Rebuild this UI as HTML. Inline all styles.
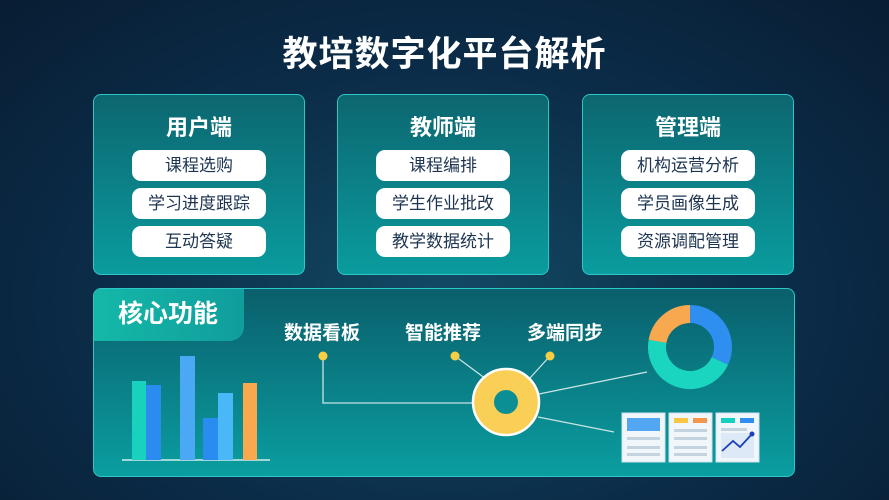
<!DOCTYPE html><html><head><meta charset="utf-8"><style>
*{margin:0;padding:0;box-sizing:border-box}
body{width:889px;height:500px;overflow:hidden;font-family:"Liberation Sans","Noto Sans CJK SC",sans-serif;background:radial-gradient(ellipse at 50% 60%,#134a64 0%,#0b2c48 55%,#081d33 100%);position:relative}
.t{position:absolute;left:0;width:889px;top:26px;text-align:center;color:#fff;font-size:35px;font-weight:bold;letter-spacing:1px}
.p{position:absolute;top:94px;width:212px;height:181px;border-radius:8px;border:1px solid #2fc6c6;background:linear-gradient(180deg,#0c6670 0%,#0a9c9e 100%)}
.p h3{text-align:center;color:#fff;font-size:22px;font-weight:bold;margin-top:15px;height:40px}
.pill{margin:0 auto 7px;width:134px;height:31px;border-radius:9px;background:#fff;color:#1d3550;font-size:17px;text-align:center;line-height:31px}
.core{position:absolute;left:93px;top:288px;width:702px;height:189px;border-radius:8px;border:1px solid #2fc6c6;background:linear-gradient(180deg,#0a5f6c 0%,#0a9ea0 100%);overflow:hidden}
.tab{position:absolute;left:0;top:0;width:150px;height:52px;background:linear-gradient(90deg,#14b8a8,#109d9c);border-bottom-right-radius:14px;color:#fff;font-size:25px;font-weight:bold;line-height:50px;padding-left:24px}
.lb{position:absolute;color:#fff;font-size:19px;font-weight:bold}
</style></head><body>
<div class="t">教培数字化平台解析</div>
<div class="p" style="left:93px"><h3>用户端</h3><div class="pill">课程选购</div><div class="pill">学习进度跟踪</div><div class="pill">互动答疑</div></div>
<div class="p" style="left:337px"><h3>教师端</h3><div class="pill">课程编排</div><div class="pill">学生作业批改</div><div class="pill">教学数据统计</div></div>
<div class="p" style="left:582px"><h3>管理端</h3><div class="pill">机构运营分析</div><div class="pill">学员画像生成</div><div class="pill">资源调配管理</div></div>
<div class="core"><div class="tab">核心功能</div></div>
<div class="lb" style="left:284px;top:318px">数据看板</div>
<div class="lb" style="left:405px;top:318px">智能推荐</div>
<div class="lb" style="left:527px;top:318px">多端同步</div>
<svg width="889" height="500" style="position:absolute;left:0;top:0">
<g fill="none" stroke="#c8e4e6" stroke-width="1.3">
<polyline points="323,356 323,403 473,403"/>
<line x1="455" y1="356" x2="486" y2="379"/>
<line x1="550" y1="356" x2="530" y2="378"/>
<line x1="539" y1="394" x2="647" y2="372"/>
<line x1="538" y1="417" x2="614" y2="432"/>
</g>
<g fill="#f7cf45"><circle cx="323" cy="356" r="4.5"/><circle cx="455" cy="356" r="4.5"/><circle cx="550" cy="356" r="4.5"/></g>
<circle cx="506" cy="402" r="33" fill="#f9cf55" stroke="#fff" stroke-width="2.5"/>
<circle cx="506" cy="402" r="12" fill="#0b8f95"/>
<line x1="122" y1="460" x2="270" y2="460" stroke="#9fd8d8" stroke-width="2"/>
<rect x="132" y="381" width="14" height="79" fill="#18d2bd"/>
<rect x="146" y="385" width="15" height="75" fill="#2a8cf0"/>
<rect x="180" y="356" width="15" height="104" fill="#4aa8f4"/>
<rect x="203" y="418" width="15" height="42" fill="#2a8cf0"/>
<rect x="218" y="393" width="15" height="67" fill="#4ab8f8"/>
<rect x="243" y="383" width="14" height="77" fill="#f9a84e"/>
<g fill="none" stroke-width="18">
<path d="M690,314 A33,33 0 0 1 719.9,361" stroke="#2e8ff0"/>
<path d="M719.9,361 A33,33 0 0 1 657.5,341.3" stroke="#1ad6c0"/>
<path d="M657.5,341.3 A33,33 0 0 1 690,314" stroke="#f8a84e"/>
</g>
<g><rect x="622" y="413" width="43" height="49" fill="#f1f6fb" stroke="#cfe0ee"/>
<rect x="627" y="418" width="33" height="13" fill="#52a6f2"/>
<rect x="627" y="437" width="33" height="3" fill="#c4d3e0"/><rect x="627" y="446" width="33" height="3" fill="#c4d3e0"/><rect x="627" y="453" width="33" height="3" fill="#c4d3e0"/>
<rect x="669" y="413" width="43" height="49" fill="#f1f6fb" stroke="#cfe0ee"/>
<rect x="674" y="418" width="14" height="5" fill="#f7c642"/><rect x="693" y="418" width="14" height="5" fill="#f6944c"/>
<rect x="674" y="429" width="33" height="3" fill="#c4d3e0"/><rect x="674" y="437" width="33" height="3" fill="#c4d3e0"/><rect x="674" y="446" width="33" height="3" fill="#c4d3e0"/><rect x="674" y="453" width="33" height="3" fill="#c4d3e0"/>
<rect x="716" y="413" width="43" height="49" fill="#f1f6fb" stroke="#cfe0ee"/>
<rect x="721" y="418" width="14" height="5" fill="#13d0c0"/><rect x="740" y="418" width="14" height="5" fill="#2e8ff0"/>
<rect x="721" y="428" width="26" height="3" fill="#c4d3e0"/>
<rect x="721" y="433" width="33" height="25" fill="#dde9f6"/>
<polyline points="722,451 733,441 740,447 752,434" fill="none" stroke="#1b3fb8" stroke-width="1.8"/><circle cx="752" cy="434" r="2.5" fill="#1b3fb8"/></g>
</svg>
</body></html>
